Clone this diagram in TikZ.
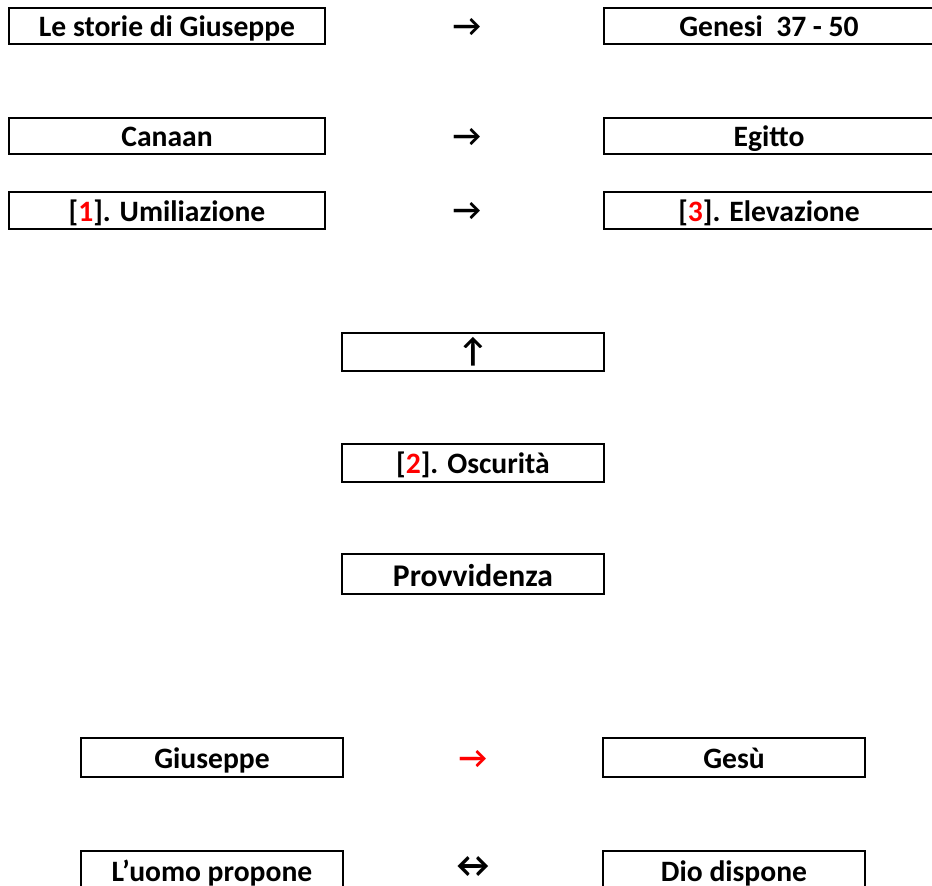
\documentclass[tikz,border=0pt]{standalone}
\usepackage{fontspec}
\setmainfont{Carlito}
\definecolor{redn}{RGB}{255,0,0}
\begin{document}
\begin{tikzpicture}[x=0.5pt,y=-0.5pt,
  box/.style={draw=black,line width=1pt,rectangle,inner sep=0pt,minimum height=18pt,
    text height=11pt,text depth=0pt,font=\fontsize{14.8}{16}\selectfont\bfseries},
  lbox/.style={box,minimum width=158pt},
  rbox/.style={box,minimum width=165pt},
  mbox/.style={box,minimum width=131pt},
  arr/.style={inner sep=0pt,font=\fontsize{15.5}{16}\selectfont\bfseries}]
\useasboundingbox (0,0) rectangle (932,886);
\clip (0,0) rectangle (932,886);
\node[lbox] (storie) at (167,26) {Le storie di Giuseppe};
\node[rbox] (genesi) at (769,26) {Genesi\ \ 37 - 50};
\node[arr] (a1) at (467,27) {→};
\node[lbox] (canaan) at (167,136) {Canaan};
\node[rbox] (egitto) at (769,136) {Egitto};
\node[arr] (a2) at (467,137) {→};
\node[lbox,minimum height=18.5pt] (umil) at (167,210.5) {[\textcolor{redn}{1}]. Umiliazione};
\node[rbox,minimum height=18.5pt] (elev) at (769,210.5) {[\textcolor{redn}{3}]. Elevazione};
\node[arr] (a3) at (467,211) {→};
\node[mbox,minimum height=19pt] (up) at (473,352) {};
\node[arr,font=\fontsize{17}{18}\selectfont\bfseries] (upar) at (up.center) {↑};
\node[mbox,minimum height=19pt] (osc) at (473,463) {[\textcolor{redn}{2}]. Oscurità};
\node[mbox,minimum height=20pt,text height=12.5pt,font=\fontsize{15.8}{17}\selectfont\bfseries] (prov) at (473,574) {Provvidenza};
\node[mbox,minimum height=19.5pt] (gius) at (212,757.5) {Giuseppe};
\node[mbox,minimum height=19.5pt] (gesu) at (734,757.5) {Gesù};
\node[arr,text=redn] (a4) at (473,759) {→};
\node[mbox,minimum height=20pt] (uomo) at (212,871) {L’uomo propone};
\node[mbox,minimum height=20pt] (dio) at (734,871) {Dio dispone};
\node[arr,font=\fontsize{18}{18}\selectfont\bfseries] (a5) at (473,867) {↔};
\end{tikzpicture}
\end{document}
